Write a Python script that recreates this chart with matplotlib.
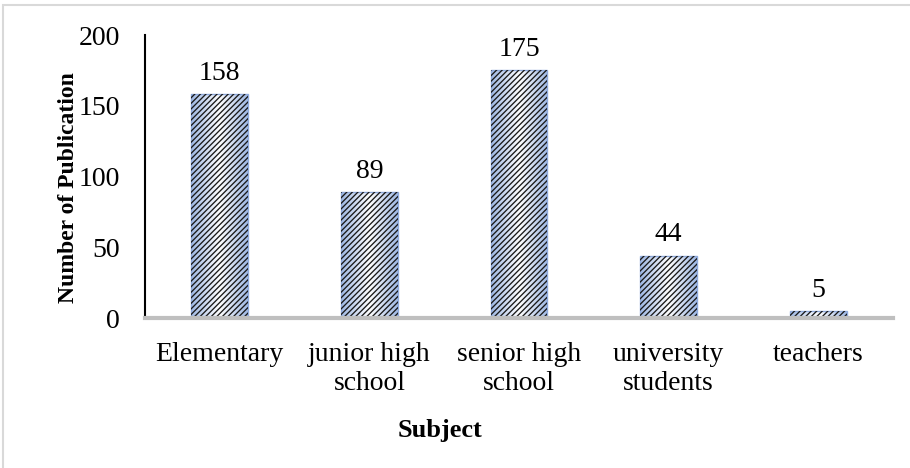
import matplotlib.pyplot as plt
from matplotlib.patches import Rectangle
from matplotlib.colors import LinearSegmentedColormap
import numpy as np

subjects = ["Elementary", "junior high\nschool", "senior high\nschool",
            "university\nstudents", "teachers"]
publications = [158, 89, 175, 44, 5]

plt.rcParams['font.family'] = ['Liberation Serif', 'DejaVu Serif']
plt.rcParams['hatch.color'] = '#1a1a1a'
plt.rcParams['hatch.linewidth'] = 0.95

W, H = 910, 468
fig = plt.figure(figsize=(W / 100, H / 100), dpi=100)
ax = fig.add_axes([145 / W, 1 - 318 / H, (893 - 145) / W, (318 - 35) / H])

x = np.arange(len(subjects))
width = 0.38

# blue-white-blue gradient inside each bar, dark diagonal hatch on top
grad = LinearSegmentedColormap.from_list('barfill', ['#9fb8e4', '#ffffff', '#9fb8e4'])
bars = ax.bar(x, publications, width, color='none', edgecolor='#8faadc', linewidth=1.0, zorder=3)
for b in bars:
    x0, y0 = b.get_x(), b.get_y()
    im = ax.imshow(np.linspace(0, 1, 64).reshape(1, -1), cmap=grad, aspect='auto',
                   extent=(x0, x0 + b.get_width(), y0, y0 + b.get_height()), zorder=2)
    im.set_clip_path(b)
ax.bar(x, publications, width, color='none', edgecolor='#1a1a1a', hatch='//////',
       linewidth=0, zorder=3)

for xi, v in zip(x, publications):
    ax.annotate(str(v), (xi, v), xytext=(0, 6), textcoords='offset points',
                ha='center', va='bottom', fontsize=20)

ax.set_xlim(-0.5, len(subjects) - 0.5)
ax.set_ylim(0, 200)
ax.set_yticks([0, 50, 100, 150, 200])
ax.set_xticks(x)
ax.set_xticklabels(subjects, fontsize=20, linespacing=1.25)
ax.tick_params(axis='y', length=0, pad=18, labelsize=20)
ax.tick_params(axis='x', length=0, pad=17)

for side in ['top', 'right']:
    ax.spines[side].set_visible(False)
ax.spines['left'].set_color('black')
ax.spines['left'].set_linewidth(1.5)
ax.spines['bottom'].set_color('#bfbfbf')
ax.spines['bottom'].set_linewidth(3)
ax.spines['bottom'].set_zorder(4)

fig.text(68 / W, 1 - 188 / H, "Number of Publication", rotation=90, fontsize=17,
         fontweight='bold', ha='center', va='center')
fig.text(440 / W, 1 - 431 / H, "Subject", fontsize=19, fontweight='bold',
         ha='center', va='center')

# outer chart border
fig.patches.append(Rectangle((3 / W, 0 - 0.01), 1.1, 1 - 5 / H + 0.01,
                             transform=fig.transFigure, fill=False,
                             edgecolor='#d9d9d9', linewidth=1.5))

fig.savefig("out.png", dpi=100)
